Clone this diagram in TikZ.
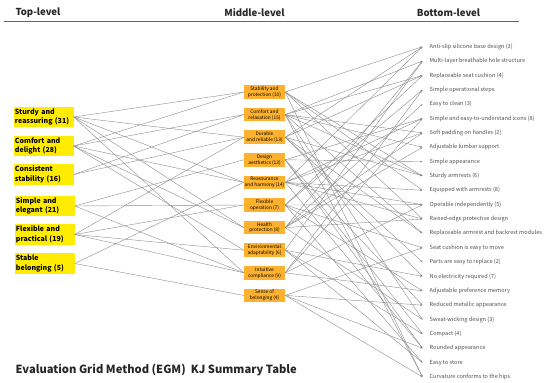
\documentclass[tikz,border=0pt]{standalone}
\usepackage{fontspec}
\setmainfont{Noto Sans CJK SC}
\usetikzlibrary{arrows.meta}
\definecolor{topyellow}{HTML}{FFEC00}
\definecolor{midorange}{HTML}{FDB12E}
\definecolor{linegray}{HTML}{8C8C8C}
\definecolor{txtgray}{HTML}{505050}
\begin{document}
\begin{tikzpicture}[x=1pt,y=-1pt,
  topbox/.style={fill=topyellow, text width=57pt, align=left, inner xsep=1.5pt, inner ysep=1pt,
    minimum height=20.5pt, font=\fontsize{7}{9.4}\selectfont\bfseries},
  midbox/.style={fill=midorange, align=center, inner xsep=0.5pt, inner ysep=0.6pt,
    minimum width=41pt, minimum height=13.5pt, font=\fontsize{4.8}{5.9}\selectfont},
  botitem/.style={anchor=west, inner xsep=7pt, inner ysep=0.5pt, text=txtgray,
    font=\fontsize{5.6}{6.5}\selectfont},
  header/.style={font=\fontsize{9.6}{11}\selectfont\bfseries, text=black!85},
  conn/.style={draw=linegray, line width=0.4pt},
  arr/.style={draw=linegray, line width=0.4pt, -{Stealth[length=2.4pt,width=1.8pt]}}]
\useasboundingbox (0,0) rectangle (550,383);
% headers
\node[header, anchor=west] (h1) at (12,13) {Top-level};
\node[header] (h2) at (254.5,13) {Middle-level};
\node[header] (h3) at (448.5,13) {Bottom-level};
\coordinate (l1) at (4,21);
\coordinate (l2) at (519,21);
\draw[draw=black!60, line width=0.8pt] (l1) -- (l2);
% top level
\node[topbox] (t1) at (43.5,117) {Sturdy and\\reassuring (31)};
\node[topbox] (t2) at (43.5,146) {Comfort and\\delight (28)};
\node[topbox] (t3) at (43.5,174.5) {Consistent\\stability (16)};
\node[topbox] (t4) at (44.5,206) {Simple and\\elegant (21)};
\node[topbox] (t5) at (44.5,234.5) {Flexible and\\practical (19)};
\node[topbox] (t6) at (44.5,263.5) {Stable\\belonging (5)};
% middle level
\node[midbox] (m1) at (264.5,92) {Stability and\\protection (10)};
\node[midbox] (m2) at (264.5,114.6) {Comfort and\\relaxation (15)};
\node[midbox] (m3) at (264.5,137.2) {Durable\\and reliable (13)};
\node[midbox] (m4) at (264.5,159.8) {Design\\aesthetics (13)};
\node[midbox] (m5) at (264.5,182.4) {Reassurance\\and harmony (14)};
\node[midbox] (m6) at (264.5,205) {Flexible\\operation (7)};
\node[midbox] (m7) at (264.5,227.6) {Health\\protection (8)};
\node[midbox] (m8) at (264.5,250.2) {Environmental\\adaptability (6)};
\node[midbox] (m9) at (264.5,272.8) {Intuitive\\compliance (9)};
\node[midbox] (m10) at (264.5,295.4) {Sense of\\belonging (4)};
% bottom level
\foreach \i/\t in {1/Anti-slip silicone base design (3),
  2/Multi-layer breathable hole structure,
  3/Replaceable seat cushion (4),
  4/Simple operational steps,
  5/Easy to clean (3),
  6/Simple and easy-to-understand icons (8),
  7/Soft padding on handles (2),
  8/Adjustable lumbar support,
  9/Simple appearance,
  10/Sturdy armrests (6),
  11/Equipped with armrests (8),
  12/Operable independently (5),
  13/Raised-edge protective design,
  14/Replaceable armrest and backrest modules,
  15/Seat cushion is easy to move,
  16/Parts are easy to replace (2),
  17/No electricity required (7),
  18/Adjustable preference memory,
  19/Reduced metallic appearance,
  20/Sweat-wicking design (3),
  21/Compact (4),
  22/Rounded appearance,
  23/Easy to store,
  24/Curvature conforms to the hips}
  {\node[botitem] (b\i) at (422.5,{46.7+(\i-1)*14.36}) {\t};}
% top -> middle
\foreach \a/\b in {1/1,1/3,1/5,1/7,1/9,
  2/2,2/1,2/7,2/5,2/8,
  3/2,3/3,
  4/4,4/9,4/6,
  5/6,5/8,5/9,5/3,
  6/10,6/5}
  {\draw[conn] (t\a.east) -- (m\b.west);}
% middle -> bottom
\foreach \a/\b in {1/1,1/10,1/11,1/13,1/24,
  2/2,2/3,2/7,2/8,2/20,2/24,2/14,2/10,
  3/1,3/10,3/14,3/16,3/17,3/3,
  4/9,4/19,4/22,4/21,4/6,
  5/11,5/13,5/12,5/6,5/1,5/22,5/7,
  6/4,6/12,6/15,6/18,6/3,6/23,
  7/2,7/5,7/20,7/13,7/8,7/7,
  8/17,8/21,8/23,8/2,
  9/4,9/6,9/12,9/18,
  10/19,10/22,10/24,10/15}
  {\draw[arr] (m\a.east) -- (b\b.west);}
% title
\node[anchor=west, font=\fontsize{11.2}{13}\selectfont\bfseries, text=black!85] (title) at (12,370)
  {Evaluation Grid Method (EGM)\ \ KJ Summary Table};
\end{tikzpicture}
\end{document}
